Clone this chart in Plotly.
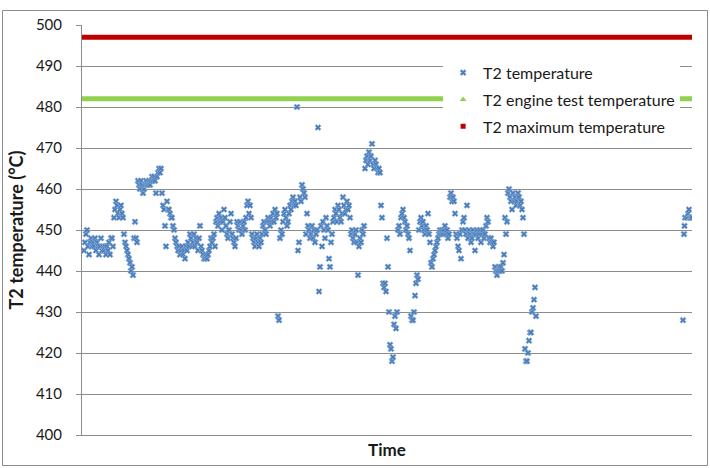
import plotly.graph_objects as go

# Logged T2 temperature, one reading per minute from minute 2 to minute 454
t2_main = [
    445, 447, 449, 450, 446, 444, 447, 448, 446, 447,
    446, 448, 445, 447, 446, 444, 446, 448, 445, 446,
    445, 446, 444, 446, 445, 447, 444, 448, 448, 446,
    453, 455, 457, 456, 454, 453, 455, 456, 454, 453,
    449, 447, 446, 445, 444, 443, 442, 440, 441, 439,
    448, 452, 448, 447,
    462, 461, 460, 462, 461, 459, 460, 461, 462, 461,
    461, 462, 461, 462, 463, 462, 463, 462, 459, 463,
    464, 465, 464, 465, 459,
    456, 455, 451, 446, 457, 455, 455, 454, 453, 453,
    451, 450, 448, 447, 446, 445, 446, 444, 445, 446,
    444, 445, 443, 446, 445, 447, 446, 449, 448, 446,
    447, 449, 446, 448, 447, 445, 448, 451, 446, 445,
    444, 443, 443, 444, 443, 444, 445, 446, 448, 447,
    448, 449, 446, 452, 453, 451, 454, 452, 453, 450,
    452, 455, 453, 451, 449, 448, 450, 452, 454, 449,
    448, 447, 446, 448, 452, 451, 450, 452, 450, 449,
    451, 452, 450, 453, 456, 457, 454, 456, 453, 449,
    448, 447, 446, 448, 449, 447, 446, 448, 447, 449,
    451, 452, 450, 449, 452, 453, 452, 451, 453, 452,
    454, 452, 455, 453, 454, 429, 428, 448, 450, 449,
    452, 454, 455, 453, 451, 452, 454, 456, 455, 457,
    458, 456, 457, 456, 480, 445, 447, 458, 457, 461,
    460, 459, 458, 449, 454, 451, 450, 448, 449, 451,
    448, 450, 447, 449, 450, 475, 435, 441, 451, 446,
    452, 450, 448, 453, 451, 450, 443, 441, 447, 449,
    452, 453, 455, 454, 452, 456, 455, 453, 452, 454,
    458, 456, 454, 455, 457, 455, 456, 453, 449, 450,
    448, 447, 449, 450, 447, 439, 446, 448, 447, 450,
    449, 451, 465, 467, 468, 466, 469, 467, 468, 471,
    466, 465, 467, 466, 465, 464, 465, 464, 456, 453,
    437, 436, 437, 435, 448, 441, 430, 422, 421, 418,
    419, 427, 429, 426, 430, 450, 451, 449, 453, 454,
    455, 453, 452, 450, 451, 449, 448, 445, 429, 428,
    428, 430, 434, 437, 439, 438, 450, 452, 453, 451,
    452, 450, 449, 451, 450, 454, 449, 447, 442, 441,
    443, 444, 445, 446, 447, 448, 449, 450, 449, 450,
    449, 450, 451, 449, 450, 448, 449, 458, 459, 457,
    458, 457, 454, 449, 448, 446, 445, 449, 443, 450,
    452, 453, 450, 449, 456, 448, 450, 449, 447, 448,
    450, 449, 445, 449, 450, 448, 449, 450, 447, 449,
    450, 448, 449, 451, 453, 452, 448, 447, 448, 447,
    446, 447, 441, 440, 439, 440, 441, 440, 441, 440,
    442, 444, 453, 449, 452, 459, 460, 458, 457, 455,
    459, 457, 458, 456, 457, 459, 458, 456, 457, 455,
    453, 449, 421, 418, 418, 420, 423, 425, 425, 430, 431, 433, 436, 429,
]
t2_main_start = 2

# Readings after the logging gap
t2_tail_time = [601, 602, 602.5, 603, 605, 606, 607, 608, 609, 610]
t2_tail_temp = [428, 449, 451, 453, 453, 454, 455, 453, 453, 453]

# Reference limits (°C)
engine_test_limit = 482
maximum_limit = 497
time_span = [0, 610]

time_main = [t2_main_start + i for i in range(len(t2_main))]
time_all = time_main + t2_tail_time
temp_all = t2_main + t2_tail_temp

BLUE = "#4A7EBB"
GREEN = "#92D050"
RED = "#C00000"
FONT = "Lato"

fig = go.Figure()

fig.add_trace(go.Scatter(
    x=time_all, y=temp_all, mode="markers", name="T2 temperature",
    marker=dict(symbol="x", size=5.5, color=BLUE,
                line=dict(width=0.6, color="#9AB8DF")),
    legendgroup="a", showlegend=True,
))

fig.add_trace(go.Scatter(
    x=time_span, y=[engine_test_limit] * 2, mode="lines",
    line=dict(color=GREEN, width=5), showlegend=False,
))
fig.add_trace(go.Scatter(
    x=time_span, y=[maximum_limit] * 2, mode="lines",
    line=dict(color=RED, width=5), showlegend=False,
))

# Legend entries for the limit series, shown with marker glyphs
fig.add_trace(go.Scatter(
    x=[None], y=[None], mode="markers", name="T2 engine test temperature",
    marker=dict(symbol="triangle-up", size=6, color=GREEN),
    legendgroup="b",
))
fig.add_trace(go.Scatter(
    x=[None], y=[None], mode="markers", name="T2 maximum temperature",
    marker=dict(symbol="square", size=5, color=RED),
    legendgroup="c",
))

fig.update_layout(
    width=710, height=468,
    margin=dict(l=82, r=18, t=25, b=33),
    paper_bgcolor="white", plot_bgcolor="white",
    font=dict(family=FONT, size=14, color="#1a1a1a"),
    showlegend=True,
    legend=dict(
        x=0.592, y=0.925, xanchor="left", yanchor="top",
        bgcolor="white", borderwidth=0,
        font=dict(family=FONT, size=16, color="#1a1a1a"),
        traceorder="grouped", tracegroupgap=3,
    ),
    hovermode=False,
)

fig.update_xaxes(
    range=time_span, showticklabels=False, ticks="",
    showgrid=False, zeroline=False,
    showline=True, linecolor="#8c8c8c", linewidth=1,
    title=dict(text="<b>Time</b>", font=dict(family=FONT, size=17), standoff=9),
)
fig.update_yaxes(
    range=[400, 500], dtick=10, tick0=400,
    showgrid=True, gridcolor="#8c8c8c", gridwidth=1,
    zeroline=False,
    showline=True, linecolor="#8c8c8c", linewidth=1,
    ticks="outside", ticklen=5, tickcolor="#8c8c8c",
    ticklabelstandoff=11,
    tickfont=dict(family=FONT, size=15, color="#1a1a1a"),
    title=dict(text="<b>T2 temperature (°C)</b>", font=dict(family=FONT, size=18), standoff=7),
)

# Chart frame
fig.add_shape(
    type="rect", xref="paper", yref="paper",
    x0=-0.1303, x1=1.0254, y0=-0.0744, y1=1.0354,
    line=dict(color="#8c8c8c", width=1), fillcolor="rgba(0,0,0,0)", layer="below",
)

fig.write_html("out.html")
